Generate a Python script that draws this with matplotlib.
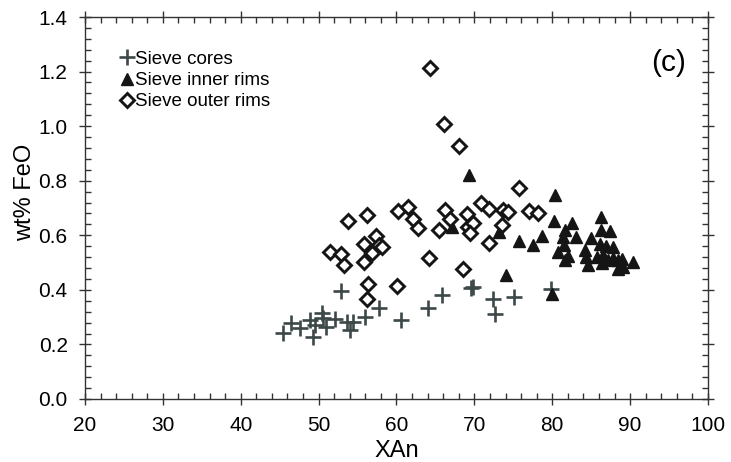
import matplotlib
matplotlib.use('Agg')
import matplotlib.pyplot as plt
from matplotlib.ticker import MultipleLocator

plt.rcParams['font.family'] = ['Liberation Sans', 'DejaVu Sans']

# Sieve cores (XAn, wt% FeO)
core_x = [45.4, 46.5, 47.6, 48.9, 49.3, 49.5, 50.4, 50.6, 51.0, 52.1, 53.7, 54.0, 54.4,
          52.9, 55.9, 57.7, 60.6, 64.1, 65.9, 69.8, 69.6, 72.4, 75.1, 79.8, 72.6]
core_y = [0.241, 0.280, 0.259, 0.289, 0.228, 0.271, 0.314, 0.296, 0.265, 0.292, 0.283, 0.253, 0.283,
          0.396, 0.299, 0.335, 0.289, 0.335, 0.381, 0.412, 0.406, 0.365, 0.375, 0.402, 0.311]

# Sieve inner rims
inner_x = [69.3, 80.4, 67.1, 73.1, 75.7, 77.5, 78.7, 80.2, 82.5, 81.6, 81.4, 83.0, 81.5, 80.8,
           82.0, 81.7, 86.2, 86.2, 87.4, 85.0, 86.1, 86.9, 87.8, 84.2, 84.4, 84.6, 85.7, 86.5,
           86.4, 87.2, 87.8, 88.5, 89.0, 88.5, 89.1, 90.4, 74.1, 80.0]
inner_y = [0.821, 0.748, 0.631, 0.613, 0.579, 0.564, 0.597, 0.652, 0.646, 0.621, 0.595, 0.593,
           0.564, 0.540, 0.524, 0.509, 0.666, 0.619, 0.616, 0.591, 0.568, 0.561, 0.558, 0.546,
           0.522, 0.491, 0.522, 0.528, 0.497, 0.509, 0.516, 0.509, 0.512, 0.478, 0.485, 0.503,
           0.454, 0.385]

# Sieve outer rims
outer_x = [64.3, 66.1, 68.0, 53.8, 56.2, 51.5, 52.9, 53.2, 55.8, 57.4, 56.9, 57.7, 58.2, 55.8,
           60.2, 61.5, 62.1, 62.8, 65.4, 66.2, 66.9, 64.2, 56.4, 56.2, 60.1, 69.1, 69.2, 69.8,
           69.4, 70.8, 71.9, 73.7, 74.3, 73.6, 75.7, 77.0, 78.2, 71.9, 68.5]
outer_y = [1.214, 1.007, 0.929, 0.653, 0.674, 0.538, 0.531, 0.491, 0.567, 0.597, 0.534, 0.564,
           0.556, 0.503, 0.690, 0.702, 0.658, 0.625, 0.619, 0.693, 0.658, 0.516, 0.420, 0.365,
           0.414, 0.678, 0.631, 0.646, 0.609, 0.720, 0.697, 0.693, 0.684, 0.638, 0.775, 0.689,
           0.680, 0.571, 0.475]

fig = plt.figure(figsize=(7.31, 4.62), dpi=100)
ax = fig.add_axes([0.1163, 0.1364, 0.8522, 0.8268])

ax.plot(core_x, core_y, '+', color='#3d4848', ms=11, mew=1.9, ls='none', label='Sieve cores')
ax.plot(inner_x, inner_y, '^', color='#151515', ms=8.5, ls='none', label='Sieve inner rims')
ax.plot(outer_x, outer_y, 'D', mfc='white', mec='#151515', ms=7.5, mew=2.1, ls='none',
        label='Sieve outer rims')

ax.set_xlim(20, 100); ax.set_ylim(0, 1.4)
ax.xaxis.set_major_locator(MultipleLocator(10)); ax.xaxis.set_minor_locator(MultipleLocator(2))
ax.yaxis.set_major_locator(MultipleLocator(0.2)); ax.yaxis.set_minor_locator(MultipleLocator(0.04))
ax.yaxis.set_major_formatter(matplotlib.ticker.FormatStrFormatter('%.1f'))
ax.tick_params(which='both', top=True, right=True, color='#333333', labelsize=15)
ax.tick_params(which='major', direction='inout', length=9, width=1, pad=8)
ax.tick_params(which='minor', direction='in', length=4, width=1)
for s in ax.spines.values():
    s.set_color('#333333'); s.set_linewidth(1)

ax.set_xlabel('XAn', fontsize=17, labelpad=3)
ax.set_ylabel('wt% FeO', fontsize=17, labelpad=2)
ax.yaxis.label.set_y(0.542)
ax.text(95.0, 1.23, '(c)', fontsize=21.5, ha='center', va='center')

ax.legend(loc='upper left', frameon=False, fontsize=13.5, handletextpad=0.05, handlelength=0.8,
          labelspacing=0.22, borderaxespad=0, bbox_to_anchor=(0.043, 0.931))

fig.savefig('out.png', dpi=100)
